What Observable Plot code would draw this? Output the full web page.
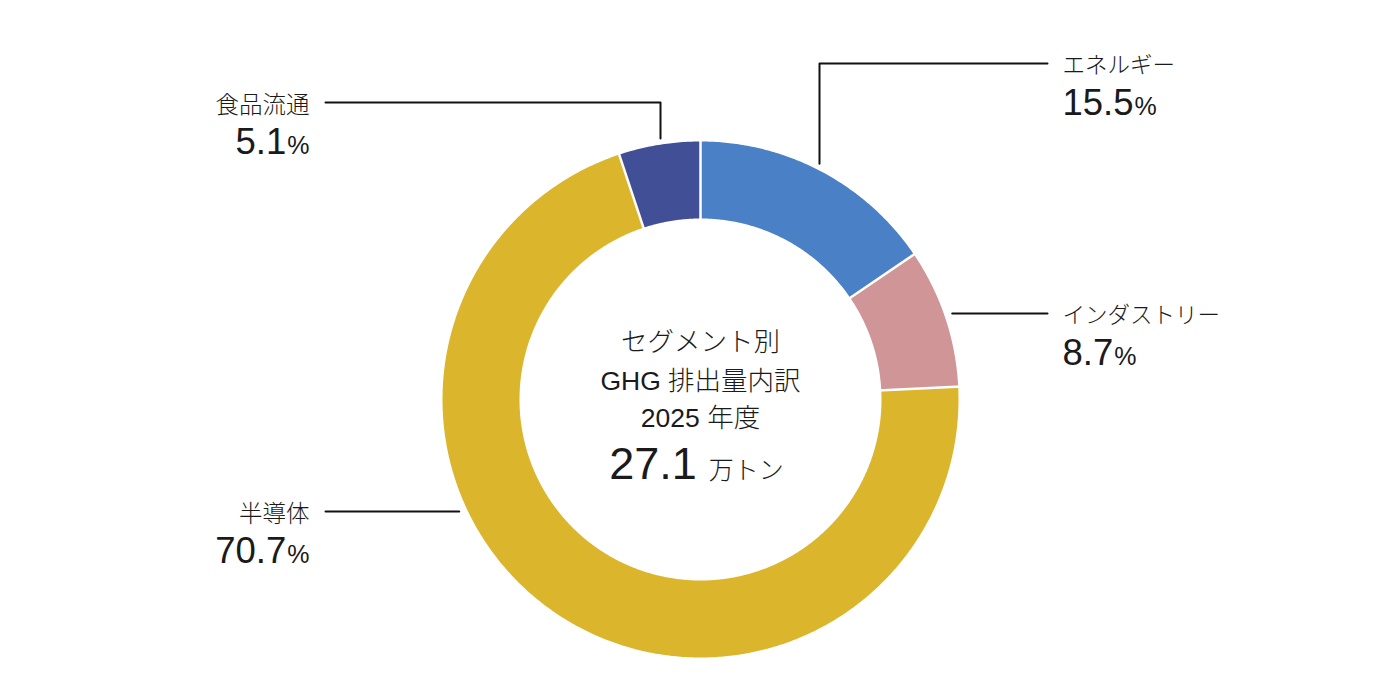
<!DOCTYPE html>
<html>
<head>
<meta charset="utf-8">
<script src="https://cdn.jsdelivr.net/npm/d3@7"></script>
<script src="https://cdn.jsdelivr.net/npm/@observablehq/plot@0.6"></script>
<style>
  body { margin: 0; background: #ffffff; }
  #chart svg { display: block; }
</style>
</head>
<body>
<div id="chart"></div>
<script>
// ---- data ----
const segments = ["エネルギー", "インダストリー", "半導体", "食品流通"];
const shares = [15.5, 8.7, 70.7, 5.1];
const segmentColors = ["#4a80c5", "#d09597", "#dbb62c", "#414f96"];
const centerTitle = ["セグメント別", "GHG 排出量内訳", "2025 年度"];
const totalValue = "27.1";
const totalUnit = "万トン";

// ---- layout ----
const W = 1400, H = 700;
const C = {x: 700, y: 399};
const R_OUT = 258, R_IN = 181, R_LEAD = 264, R_HLEAD = 266;
const leaderLayout = {
  "エネルギー":   {type: "elbow",      xElbow: 819, y: 63,  xEnd: 1047, side: "right"},
  "インダストリー": {type: "horizontal", y: 313, xEnd: 1047, side: "right"},
  "半導体":       {type: "horizontal", y: 511, xEnd: 325,  side: "left"},
  "食品流通":     {type: "elbow",      xElbow: 660, y: 102, xEnd: 325,  side: "left"}
};
const labelX = {right: 1062, left: 309};
const centerLineY = [341, 380, 417];
const totalBaseline = 478;
const PCT_SIZE = 36.5;
const FONT = '"Liberation Sans", "Noto Sans CJK JP", sans-serif';
const INK = "#1a1a1a";

const rows = segments.map((segment, i) => ({segment, share: shares[i]}));
const slices = d3.pie().sort(null).value(d => d.share)(rows);
const polar = (a, r) => ({x: C.x + r * Math.sin(a), y: C.y - r * Math.cos(a)});

// ring polygons (arc outlines of each slice)
const ring = slices.flatMap(s => {
  const n = Math.max(4, Math.ceil((s.endAngle - s.startAngle) / (Math.PI / 360)));
  const angles = d3.range(n + 1).map(i => s.startAngle + (s.endAngle - s.startAngle) * i / n);
  const outer = angles.map(a => ({segment: s.data.segment, ...polar(a, R_OUT)}));
  const inner = angles.slice().reverse().map(a => ({segment: s.data.segment, ...polar(a, R_IN)}));
  return [...outer, ...inner];
});

// white separators at slice boundaries
const separators = slices.map(s => {
  const p0 = polar(s.startAngle, R_IN - 3), p1 = polar(s.startAngle, R_OUT + 3);
  return {x1: p0.x, y1: p0.y, x2: p1.x, y2: p1.y};
});

// leader lines
const leaders = slices.flatMap(s => {
  const seg = s.data.segment, L = leaderLayout[seg];
  let pts;
  if (L.type === "elbow") {
    const dx = L.xElbow - C.x;
    const y0 = C.y - Math.sqrt(R_LEAD * R_LEAD - dx * dx);
    pts = [{x: L.xElbow, y: y0}, {x: L.xElbow, y: L.y}, {x: L.xEnd, y: L.y}];
  } else {
    const dy = L.y - C.y;
    const dx = Math.sqrt(R_HLEAD * R_HLEAD - dy * dy);
    pts = [{x: C.x + (L.side === "right" ? dx : -dx), y: L.y}, {x: L.xEnd, y: L.y}];
  }
  return pts.map(p => ({segment: seg, ...p}));
});

const labels = slices.map(s => {
  const seg = s.data.segment, L = leaderLayout[seg];
  return {
    segment: seg,
    pct: s.data.share.toFixed(1) + "%",
    x: labelX[L.side],
    anchor: L.side === "right" ? "start" : "end",
    nameY: L.y + 2.5,
    pctY: L.y + 51 - 0.32 * PCT_SIZE
  };
});
const rightLabels = labels.filter(d => d.anchor === "start");
const leftLabels = labels.filter(d => d.anchor === "end");

const plot = Plot.plot({
  width: W,
  height: H,
  margin: 0,
  x: {domain: [0, W], range: [0, W], axis: null},
  y: {domain: [0, H], range: [0, H], axis: null},
  color: {domain: segments, range: segmentColors},
  style: {background: "#ffffff"},
  marks: [
    Plot.line(ring, {x: "x", y: "y", z: "segment", fill: "segment", stroke: null, curve: "linear-closed"}),
    Plot.link(separators, {x1: "x1", y1: "y1", x2: "x2", y2: "y2", stroke: "#ffffff", strokeWidth: 2.5}),
    Plot.line(leaders, {x: "x", y: "y", z: "segment", stroke: "#111111", strokeWidth: 2}),
    // segment names
    Plot.text(rightLabels, {x: "x", y: "nameY", text: "segment", textAnchor: "start", lineAnchor: "middle",
      fontSize: 22.5, fontFamily: FONT, fontWeight: 300, fill: INK}),
    Plot.text(leftLabels, {x: "x", y: "nameY", text: "segment", textAnchor: "end", lineAnchor: "middle",
      fontSize: 23.5, fontFamily: FONT, fontWeight: 300, fill: INK}),
    // percentages
    Plot.text(rightLabels, {x: "x", y: "pctY", text: "pct", textAnchor: "start", lineAnchor: "middle",
      fontSize: PCT_SIZE, fontFamily: FONT, fill: INK}),
    Plot.text(leftLabels, {x: "x", y: "pctY", text: "pct", textAnchor: "end", lineAnchor: "middle",
      fontSize: PCT_SIZE, fontFamily: FONT, fill: INK}),
    // center title
    Plot.text(centerTitle, {x: () => C.x, y: (d, i) => centerLineY[i] + 1.5, text: d => d, textAnchor: "middle",
      lineAnchor: "middle", fontSize: 26.5, fontFamily: FONT, fontWeight: 300, fill: INK}),
    Plot.text([totalValue + " " + totalUnit], {x: () => C.x - 4, y: () => totalBaseline - 0.32 * 45, text: d => d,
      textAnchor: "middle", lineAnchor: "middle", fontSize: 45, fontFamily: FONT, fill: INK})
  ]
});

// mixed font sizes: smaller "%" and unit
d3.select(plot).selectAll("text").each(function () {
  const t = this.textContent;
  let m = t.match(/^([\d.]+)%$/);
  if (m) {
    const el = d3.select(this);
    el.text(null);
    el.append("tspan").text(m[1]);
    el.append("tspan").attr("font-size", 25).attr("dx", 1).text("%");
    return;
  }
  m = t.match(/^([\d.]+) (\S+)$/);
  if (m && m[2] === totalUnit) {
    const el = d3.select(this);
    el.text(null);
    el.append("tspan").text(m[1]);
    el.append("tspan").attr("font-size", 25).attr("font-weight", 300).attr("dx", 12).text(m[2]);
  }
});

document.getElementById("chart").appendChild(plot);
</script>
</body>
</html>
